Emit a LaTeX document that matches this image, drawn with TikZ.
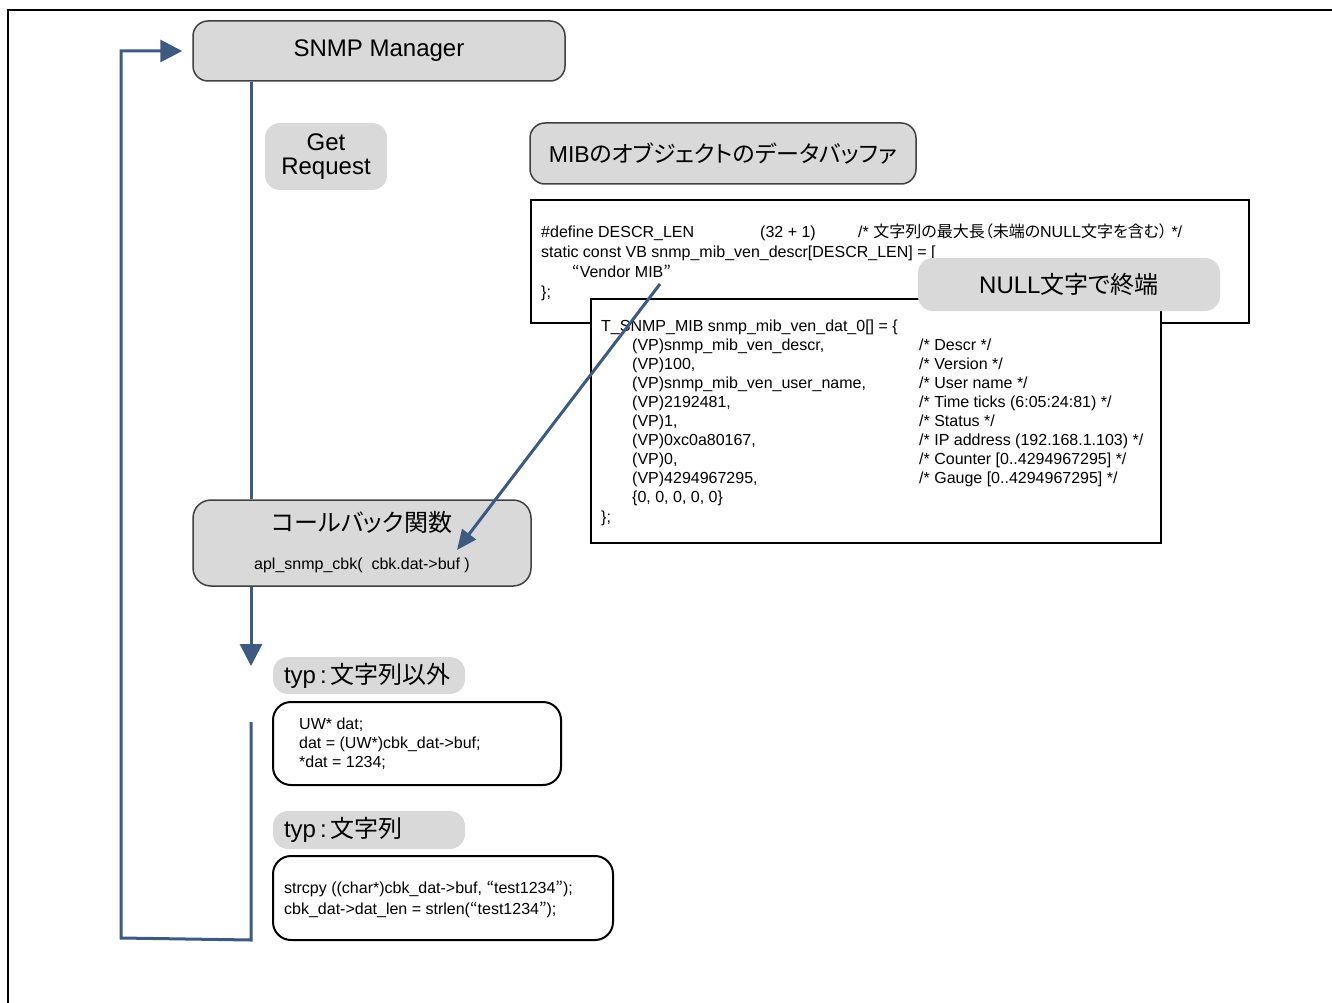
\documentclass[tikz,border=0pt]{standalone}
\usepackage{fontspec}
\setmainfont{Liberation Sans}
\newfontfamily\jp{Noto Sans CJK JP}[RawFeature=+palt]
\usetikzlibrary{arrows.meta}

\definecolor{boxgray}{HTML}{D9D9D9}
\definecolor{edgegray}{HTML}{404040}
\definecolor{flow}{HTML}{3D5A80}

\newcommand{\fs}[2]{\fontsize{#1}{#2}\selectfont}
% multi-line code text; the baseline of the node is that of the first line
\newcommand{\codeblock}[3]{\parbox[t]{#1}{\fs{16}{#2}\lineskiplimit=-100pt\raggedright #3}}
% one indented row of the data table with its trailing comment
\newcommand{\tabrow}[2]{\hspace*{31pt}\makebox[287pt][l]{#1}#2}
% spaced colon after the field name
\newcommand{\typsep}{\hspace{4pt}:\hspace{4pt}}

\tikzset{
  graybox/.style={draw=edgegray, line width=1.5pt, fill=boxgray, rounded corners=15pt, inner sep=0pt},
  graytag/.style={fill=boxgray, rounded corners=15pt, inner sep=0pt},
  codebox/.style={draw=black, line width=2pt, fill=white, inner sep=0pt},
  roundcode/.style={codebox, rounded corners=18pt},
  codetext/.style={anchor=base west, inner sep=0pt},
  flowline/.style={draw=flow, line width=3pt},
  flowtip/.style={-{Triangle[width=22pt,length=22pt]}},
  reftip/.style={-{Triangle[width=17pt,length=20pt]}},
}

\begin{document}
\begin{tikzpicture}[x=1pt, y=-1pt]
\useasboundingbox (0,0) rectangle (1332,1003);

% page frame (top and left edges)
\draw[line width=2pt] (8,1003) -- (8,10) -- (1332,10);

% manager and request
\node[graybox, minimum width=372pt, minimum height=60pt, font=\fs{24}{29}] (manager) at (379,51) {SNMP Manager};
\node[graytag, minimum width=122pt, minimum height=67pt, align=center, font=\fs{24}{24}] (getreq) at (326,156.5) {Get\\Request};

% data buffer of the MIB object
\node[graybox, minimum width=386pt, minimum height=61pt, font=\fs{23}{28}] (mibtitle) at (723,153.5) {MIB{\jp のオブジェクトのデータバッファ}};

\node[codebox, minimum width=718pt, minimum height=123pt] (descrbox) at (890,261.5) {};
\node[codetext] (descrcode) at (541,237) {\codeblock{700pt}{20pt}{%
\makebox[219pt][l]{\#define DESCR\_LEN}\makebox[98pt][l]{(32 + 1)}/* {\jp 文字列の最大長（未端の}NULL{\jp 文字を含む）} */\\
static const VB snmp\_mib\_ven\_descr[DESCR\_LEN] = [\\
\hspace*{31pt}{\jp “}Vendor MIB{\jp ”}\\
\};}};

\node[codebox, minimum width=570pt, minimum height=244pt] (datbox) at (876,421) {};
\node[codetext] (datcode) at (601,331) {\codeblock{560pt}{19.1pt}{%
T\_SNMP\_MIB snmp\_mib\_ven\_dat\_0[] = \{\\
\tabrow{(VP)snmp\_mib\_ven\_descr,}{/* Descr */}\\
\tabrow{(VP)100,}{/* Version */}\\
\tabrow{(VP)snmp\_mib\_ven\_user\_name,}{/* User name */}\\
\tabrow{(VP)2192481,}{/* Time ticks (6:05:24:81) */}\\
\tabrow{(VP)1,}{/* Status */}\\
\tabrow{(VP)0xc0a80167,}{/* IP address (192.168.1.103) */}\\
\tabrow{(VP)0,}{/* Counter [0..4294967295] */}\\
\tabrow{(VP)4294967295,}{/* Gauge [0..4294967295] */}\\
\hspace*{31pt}\{0, 0, 0, 0, 0\}\\
\};}};

\node[graytag, minimum width=302pt, minimum height=53pt, font=\fs{24}{29}] (nullterm) at (1069,284.5) {NULL{\jp 文字で終端}};

% callback function
\node[graybox, rounded corners=18pt, minimum width=338pt, minimum height=86pt] (callback) at (362,543) {};
\node[inner sep=0pt, font=\jp\fs{24}{29}] (cbtitle) at (362,522) {コールバック関数};
\node[inner sep=0pt, anchor=base, font=\fs{16}{20}] (cbcall) at (362,569) {apl\_snmp\_cbk(\ \ cbk.dat->buf )};

% handling by data type
\node[graytag, minimum height=37pt, text width=170pt, inner xsep=11pt, align=left, font=\fs{24}{29}] (typother) at (369,675.5) {typ\typsep{\jp 文字列以外}};
\node[roundcode, minimum width=288pt, minimum height=83pt] (otherbox) at (417,743.5) {};
\node[codetext] (othercode) at (299,729) {\codeblock{260pt}{19pt}{%
UW* dat;\\
dat = (UW*)cbk\_dat->buf;\\
{}*dat = 1234;}};

\node[graytag, minimum height=38pt, text width=170pt, inner xsep=11pt, align=left, font=\fs{24}{29}] (typstr) at (369,830) {typ\typsep{\jp 文字列}};
\node[roundcode, minimum width=340pt, minimum height=84pt] (strbox) at (443,898) {};
\node[codetext] (strcode) at (284,893) {\codeblock{325pt}{21pt}{%
strcpy ((char*)cbk\_dat->buf, {\jp “}test1234{\jp ”});\\
cbk\_dat->dat\_len = strlen({\jp “}test1234{\jp ”});}};

% control flow
\coordinate (trunk) at (251,0);
\coordinate (typtip) at (251,666);
\coordinate (loopstart) at (251,722);
\coordinate (loopcorner) at (251,940);
\coordinate (loopleft) at (121,938);
\coordinate (managertip) at ([xshift=-10pt]manager.west);
\draw[flowline] (manager.south -| trunk) -- (callback.north -| trunk);
\draw[flowline, flowtip] (callback.south -| trunk) -- (typtip);
\draw[flowline, flowtip] (loopstart) -- (loopcorner) -- (loopleft) -- (loopleft |- managertip) -- (managertip);

% reference from the string constant into the callback buffer
\coordinate (vendorref) at (660,284);
\coordinate (bufref) at (457,550);
\draw[flowline, reftip] (vendorref) -- (bufref);
\end{tikzpicture}
\end{document}
